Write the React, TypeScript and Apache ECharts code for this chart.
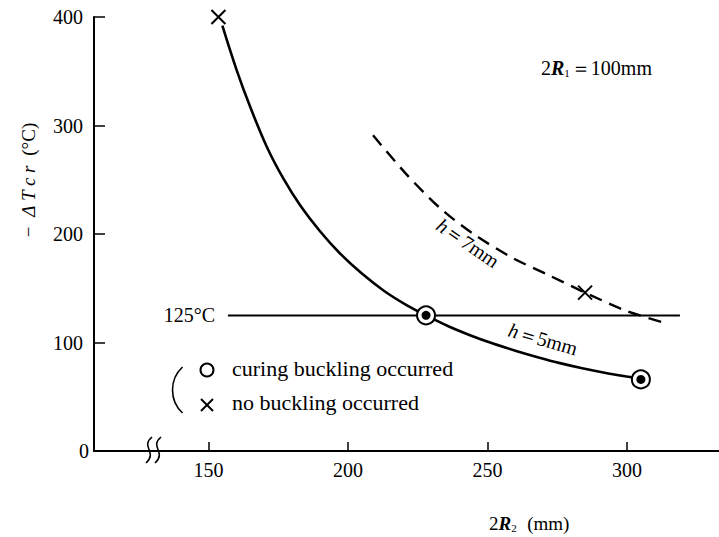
import React, { useEffect, useRef } from "react";
import * as echarts from "echarts";

// ---- data ----
const xTicks = [150, 200, 250, 300];
const yTicks = [0, 100, 200, 300, 400];

// h = 5 mm (solid curve)
const h5X = [155, 160, 165, 171, 177, 183, 190, 197, 205, 213, 221, 228, 236, 244, 252, 260, 268, 276, 284, 292, 300, 305];
const h5Y = [392, 352, 317, 280, 250.5, 226, 202.5, 182.5, 163.5, 147.5, 134.5, 125, 115, 106.5, 99, 92.5, 86.5, 81, 76.3, 72.2, 68.6, 66.5];

// h = 7 mm (dashed curve)
const h7X = [209, 221, 233, 245, 259, 272, 285, 300, 315];
const h7Y = [291, 255, 224, 200, 178, 162, 146, 129, 117];

// 125 °C line
const thresholdX = [157, 319];
const thresholdY = 125;

// curing buckling occurred (double circle)
const occurredX = [228, 305];
const occurredY = [125, 66];

// no buckling occurred (cross)
const noBucklingX = [153.6, 285];
const noBucklingY = [400, 146];

const SERIF = '"Liberation Serif", "Times New Roman", serif';

export default function App() {
  const ref = useRef<HTMLDivElement>(null);

  useEffect(() => {
    const chart = echarts.init(ref.current!, null, { renderer: "svg" });

    const h5 = h5X.map((x, i) => [x, h5Y[i]]);
    const h7 = h7X.map((x, i) => [x, h7Y[i]]);
    const thr = thresholdX.map((x) => [x, thresholdY]);
    const occ = occurredX.map((x, i) => [x, occurredY[i]]);
    const noB = noBucklingX.map((x, i) => [x, noBucklingY[i]]);

    const option: any = {
      animation: false,
      backgroundColor: "#fff",
      grid: { left: 94, right: 0, top: 17, bottom: 86 },
      xAxis: {
        type: "value",
        min: 109,
        max: 333,
        axisLine: { show: true, onZero: false, lineStyle: { color: "#000", width: 2 } },
        axisTick: {
          show: true,
          inside: true,
          length: 9,
          customValues: xTicks,
          lineStyle: { color: "#000", width: 1.5 },
        },
        axisLabel: {
          customValues: xTicks,
          color: "#000",
          fontSize: 20,
          fontFamily: SERIF,
          margin: 9,
        },
        splitLine: { show: false },
      },
      yAxis: {
        type: "value",
        min: yTicks[0],
        max: yTicks[yTicks.length - 1],
        interval: 100,
        axisLine: { show: true, onZero: false, lineStyle: { color: "#000", width: 2 } },
        axisTick: { show: true, inside: true, length: 11, lineStyle: { color: "#000", width: 1.5 } },
        axisLabel: {
          color: "#000",
          fontSize: 20,
          fontFamily: SERIF,
          margin: 11,
          formatter: (v: number) => (v === 0 ? "{z|0}" : String(v)),
          rich: { z: { fontSize: 20, fontFamily: SERIF, color: "#000", padding: [0, -6, 0, 0] } },
        },
        splitLine: { show: false },
      },
      series: [
        {
          type: "line",
          data: h5,
          smooth: 0.3,
          showSymbol: false,
          lineStyle: { color: "#000", width: 2.6 },
          z: 2,
        },
        {
          type: "line",
          data: h7,
          smooth: 0.3,
          showSymbol: false,
          lineStyle: { color: "#000", width: 2.4, type: [13, 8] },
          z: 2,
        },
        {
          type: "line",
          data: thr,
          showSymbol: false,
          lineStyle: { color: "#000", width: 2 },
          z: 2,
        },
        {
          type: "scatter",
          data: occ,
          symbol: "circle",
          symbolSize: 18,
          itemStyle: { color: "#fff", borderColor: "#000", borderWidth: 2, opacity: 1 },
          z: 5,
        },
        {
          type: "scatter",
          data: occ,
          symbol: "circle",
          symbolSize: 9,
          itemStyle: { color: "#000", opacity: 1 },
          z: 6,
        },
        {
          type: "scatter",
          data: noB,
          symbol: "path://M0,0L10,10M10,0L0,10",
          symbolSize: 14,
          itemStyle: { color: "none", borderColor: "#000", borderWidth: 2, opacity: 1 },
          z: 5,
        },
      ],
      graphic: [
        // 125°C label
        {
          type: "text",
          x: 215,
          y: 315,
          style: {
            text: "125°C",
            fill: "#000",
            font: `20px ${SERIF}`,
            align: "right",
            verticalAlign: "middle",
          },
        },
        // 2R1 = 100mm
        {
          type: "text",
          x: 541,
          y: 68,
          style: {
            text: "{n|2}{i|R}{s|1}{n|＝100mm}",
            fill: "#000",
            align: "left",
            verticalAlign: "middle",
            rich: {
              n: { font: `20px ${SERIF}`, fill: "#000" },
              i: { font: `italic bold 20px ${SERIF}`, fill: "#000" },
              s: { font: `11px ${SERIF}`, fill: "#000", padding: [10, 1, 0, 0] },
            },
          },
        },
        // h=7mm
        {
          type: "text",
          x: 468,
          y: 243,
          rotation: -0.6,
          style: {
            text: "{i|h}{n|＝7mm}",
            align: "center",
            verticalAlign: "middle",
            rich: {
              n: { font: `20px ${SERIF}`, fill: "#000" },
              i: { font: `italic 20px ${SERIF}`, fill: "#000" },
            },
          },
        },
        // h=5mm
        {
          type: "text",
          x: 543,
          y: 339,
          rotation: -0.28,
          style: {
            text: "{i|h}{n|＝5mm}",
            align: "center",
            verticalAlign: "middle",
            rich: {
              n: { font: `20px ${SERIF}`, fill: "#000" },
              i: { font: `italic 20px ${SERIF}`, fill: "#000" },
            },
          },
        },
        // legend parenthesis
        {
          type: "arc",
          shape: { cx: 204, cy: 390, r: 31.5, startAngle: Math.PI - 0.82, endAngle: Math.PI + 0.82 },
          style: { stroke: "#000", lineWidth: 1.6, fill: "none" },
        },
        // legend circle
        {
          type: "circle",
          shape: { cx: 207, cy: 370, r: 6.5 },
          style: { stroke: "#000", lineWidth: 2, fill: "none" },
        },
        // legend cross
        {
          type: "line",
          shape: { x1: 201, y1: 399, x2: 213, y2: 411 },
          style: { stroke: "#000", lineWidth: 2 },
        },
        {
          type: "line",
          shape: { x1: 213, y1: 399, x2: 201, y2: 411 },
          style: { stroke: "#000", lineWidth: 2 },
        },
        {
          type: "text",
          x: 232,
          y: 368,
          style: {
            text: "curing buckling occurred",
            fill: "#000",
            font: `22px ${SERIF}`,
            align: "left",
            verticalAlign: "middle",
          },
        },
        {
          type: "text",
          x: 232,
          y: 402,
          style: {
            text: "no buckling occurred",
            fill: "#000",
            font: `22px ${SERIF}`,
            align: "left",
            verticalAlign: "middle",
          },
        },
        // axis break marks
        {
          type: "bezierCurve",
          shape: { x1: 152, y1: 437, cpx1: 140, cpy1: 447, cpx2: 158, cpy2: 452, x2: 146, y2: 463 },
          style: { stroke: "#000", lineWidth: 1.6, fill: "none" },
        },
        {
          type: "bezierCurve",
          shape: { x1: 161, y1: 437, cpx1: 149, cpy1: 447, cpx2: 167, cpy2: 452, x2: 155, y2: 463 },
          style: { stroke: "#000", lineWidth: 1.6, fill: "none" },
        },
        // x axis title
        {
          type: "text",
          x: 489,
          y: 523,
          style: {
            text: "{n|2}{i|R}{s|2}{n|  (mm)}",
            align: "left",
            verticalAlign: "middle",
            rich: {
              n: { font: `19px ${SERIF}`, fill: "#000" },
              i: { font: `italic bold 19px ${SERIF}`, fill: "#000" },
              s: { font: `11px ${SERIF}`, fill: "#000", padding: [10, 1, 0, 0] },
            },
          },
        },
        // y axis title
        {
          type: "text",
          x: 28,
          y: 180,
          rotation: Math.PI / 2,
          style: {
            text: "{n|−  }{i|Δ T c r}{n|  (°C)}",
            align: "center",
            verticalAlign: "middle",
            rich: {
              n: { font: `19px ${SERIF}`, fill: "#000" },
              i: { font: `italic 19px ${SERIF}`, fill: "#000" },
            },
          },
        },
      ],
    };

    chart.setOption(option);
    return () => chart.dispose();
  }, []);

  return (
    <div
      ref={ref}
      style={{ position: "fixed", left: 0, top: 0, width: 719, height: 537, background: "#fff" }}
    />
  );
}
